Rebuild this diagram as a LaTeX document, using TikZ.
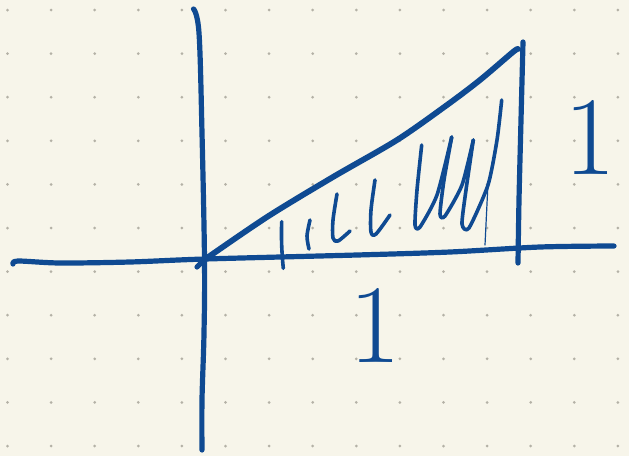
\documentclass[tikz,border=0pt]{standalone}
\definecolor{paper}{HTML}{F7F5EA}
\definecolor{ink}{HTML}{0F4A92}
\definecolor{gridot}{HTML}{B4B1A6}
\begin{document}
\begin{tikzpicture}[x=1pt,y=-1pt,
  pen/.style={draw=ink,line width=5.2pt,line cap=round,line join=round},
  hatch/.style={pen,line width=3.6pt},
  thinpen/.style={draw=ink,line width=1.2pt,line cap=round},
  label/.style={text=ink,inner sep=0pt,font=\fontsize{112}{112}\selectfont}]
\fill[paper] (0,0) rectangle (629,456);
\useasboundingbox (0,0) rectangle (629,456);
% dot grid
\foreach \i in {0,...,14}{
  \foreach \j in {0,...,10}{
    \fill[gridot] (7.5+43.6*\i,10+43.6*\j) circle (1.5);
  }
}
% vertical axis
\draw[pen] plot[smooth,tension=0.6] coordinates {(193.5,9) (199,33) (202,133) (204.5,260) (204,333) (202,400) (202,450)};
% horizontal axis
\draw[pen] plot[smooth,tension=0.5] coordinates {(13,264) (18,261) (60,263) (130,262) (205,259) (357,255) (450,252) (540,247) (614,246)};
\draw[pen] (197,267) -- (207,257);
% hypotenuse
\draw[pen,line width=5.8pt] plot[smooth,tension=0.5] coordinates {(204,260) (267,217) (333,177) (397,140) (447,105) (480,80) (513,52) (518,49)};
% right side
\draw[pen] plot[smooth] coordinates {(523,42) (521,120) (519,200) (518,263)};
% hatching
\draw[hatch] (281.7,221.7) .. controls (281,240) and (282,255) .. (283.3,268.3);
\draw[hatch] plot[smooth] coordinates {(310,220) (307,236) (309,249)};
\draw[hatch] plot[smooth] coordinates {(337,194) (333,220) (333,238) (338,241) (350,231)};
\draw[hatch] plot[smooth] coordinates {(375,180) (371,210) (371,232) (376,234) (390,215)};
\draw[hatch] plot[smooth,tension=0.4] coordinates {(421.7,145) (417,190) (415,225) (420,227) (437,195) (451.7,137)};
\draw[hatch] plot[smooth,tension=0.4] coordinates {(451.7,137) (444,180) (440,214) (445,216) (462,185) (473.3,140)};
\draw[hatch] plot[smooth,tension=0.4] coordinates {(473.3,140) (466,190) (462,224) (469,228) (488,185) (497,140) (501.7,100)};
\draw[thinpen] (488,183) -- (485,245);
% labels
\node[label] (oneX) at (375,325) {1};
\node[label] (oneY) at (590,137) {1};
\end{tikzpicture}
\end{document}
